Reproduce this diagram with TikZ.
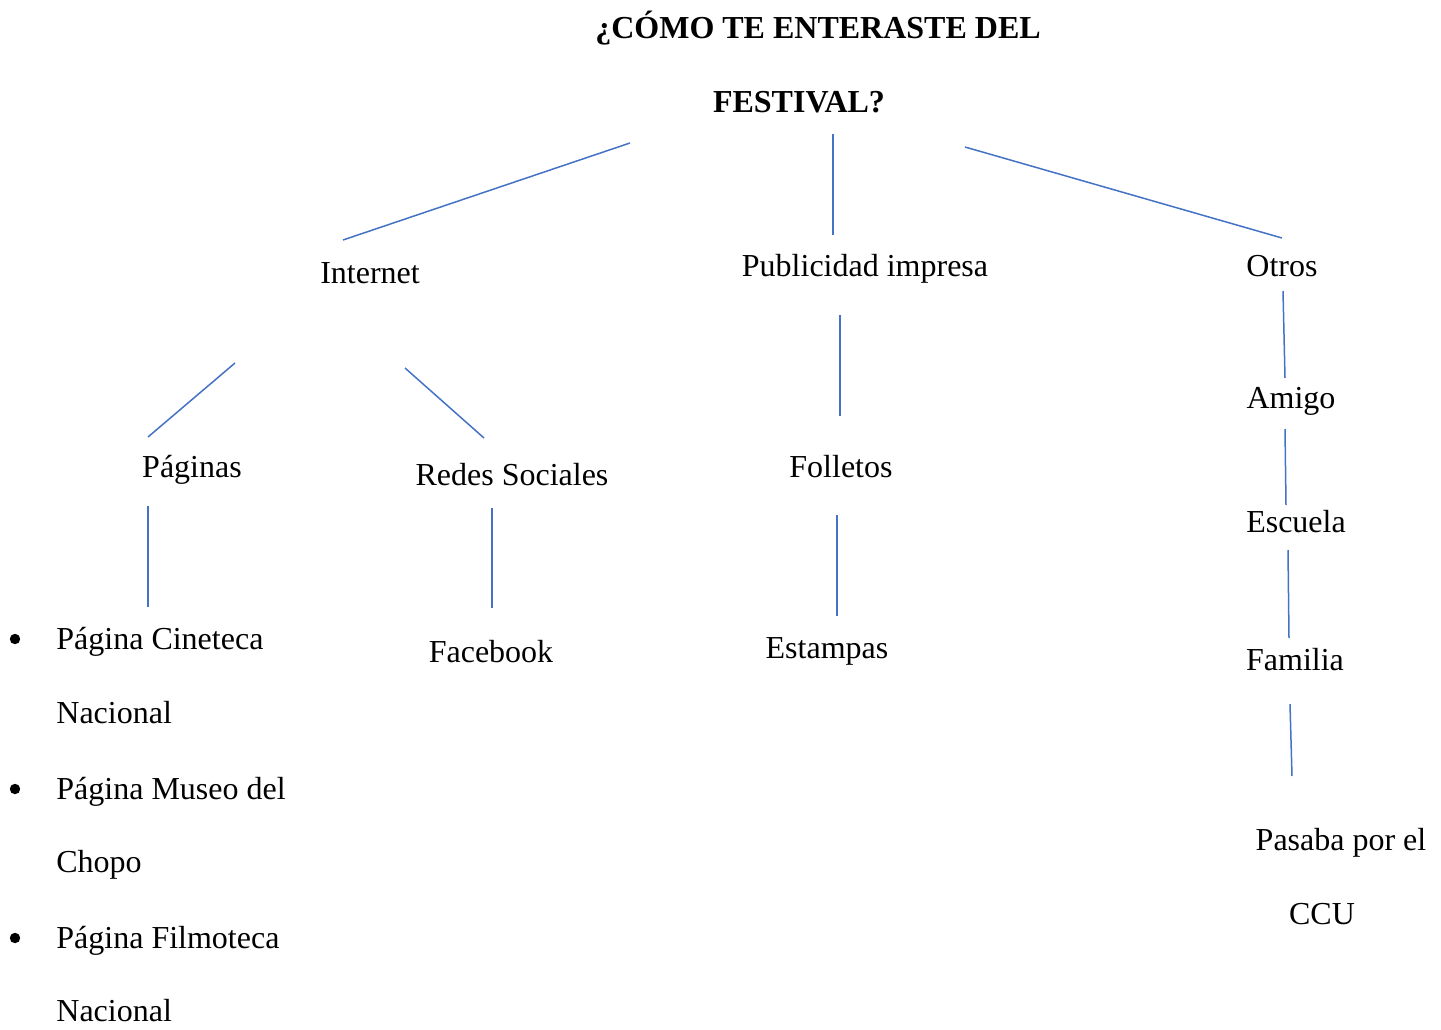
\documentclass[tikz,border=0pt]{standalone}
\usepackage{fontspec}
\setmainfont{Liberation Serif}
\usetikzlibrary{positioning}
\definecolor{lineablue}{HTML}{4472C4}

\begin{document}
\begin{tikzpicture}[x=0.5pt, y=-0.5pt,
    every node/.style={inner sep=0pt, font=\fontsize{16}{19}\selectfont},
    etiqueta/.style={anchor=base},
    item/.style={anchor=base west},
    bala/.style={circle, fill=black, minimum size=5.2pt},
    titulo/.style={anchor=base, font=\fontsize{16}{19}\selectfont\bfseries},
    conector/.style={lineablue, line width=0.75pt}]
    \useasboundingbox (0,0) rectangle (1441,1029);

    % Title
    \node[titulo] (titulo) at (818, 38) {¿CÓMO TE ENTERASTE DEL};
    \node[titulo] (festival) at (799, 112) {FESTIVAL?};

    % First level
    \node[etiqueta] (internet) at (370, 283) {Internet};
    \node[etiqueta] (publicidad) at (865, 276) {Publicidad impresa};
    \node[etiqueta] (otros) at (1282, 276) {Otros};

    % Second level
    \node[etiqueta] (paginas) at (192, 477) {Páginas};
    \node[etiqueta] (redes) at (512, 485) {Redes Sociales};
    \node[etiqueta] (folletos) at (841, 477) {Folletos};
    \node[etiqueta] (amigo) at (1291, 408) {Amigo};
    \node[etiqueta] (escuela) at (1296, 532) {Escuela};
    \node[etiqueta] (familia) at (1295, 670) {Familia};

    % Third level
    \node[etiqueta] (facebook) at (491, 662) {Facebook};
    \node[etiqueta] (estampas) at (827, 658) {Estampas};
    \node[etiqueta] (pasaba) at (1341, 850) {Pasaba por el};
    \node[etiqueta] (ccu) at (1322, 924) {CCU};

    % Bullet list
    \foreach \y/\nombre/\texto in {649/cineteca/Página Cineteca, 799/museo/Página Museo del, 948/filmoteca/Página Filmoteca} {
        \node[bala] (bala-\nombre) at (15, \y-10) {};
        \node[item] (\nombre) at (56, \y) {\texto};
    }
    \node[item] (cineteca2) at (56, 723) {Nacional};
    \node[item] (museo2) at (56, 872) {Chopo};
    \node[item] (filmoteca2) at (56, 1021) {Nacional};

    % Line ends
    \coordinate (t-i) at (630, 143);  \coordinate (i-t) at (343, 240);
    \coordinate (t-p) at (833, 134);  \coordinate (p-t) at (833, 235);
    \coordinate (t-o) at (965, 147);  \coordinate (o-t) at (1282, 238);
    \coordinate (i-pg) at (235, 363); \coordinate (pg-i) at (148, 437);
    \coordinate (i-r) at (405, 368);  \coordinate (r-i) at (484, 438);
    \coordinate (p-f) at (840, 315);  \coordinate (f-p) at (840, 416);
    \coordinate (o-a) at (1283, 291); \coordinate (a-o) at (1285, 378);
    \coordinate (a-e) at (1285, 429); \coordinate (e-a) at (1286, 505);
    \coordinate (e-fm) at (1288, 550); \coordinate (fm-e) at (1289, 638);
    \coordinate (fm-ps) at (1290, 704); \coordinate (ps-fm) at (1292, 776);
    \coordinate (pg-c) at (148, 506); \coordinate (c-pg) at (148, 607);
    \coordinate (r-fb) at (492, 508); \coordinate (fb-r) at (492, 608);
    \coordinate (f-es) at (837, 515); \coordinate (es-f) at (837, 616);

    % Connectors
    \foreach \a/\b in {t-i/i-t, t-p/p-t, t-o/o-t, i-pg/pg-i, i-r/r-i, p-f/f-p,
                       o-a/a-o, a-e/e-a, e-fm/fm-e, fm-ps/ps-fm, pg-c/c-pg,
                       r-fb/fb-r, f-es/es-f} {
        \draw[conector] (\a) -- (\b);
    }
\end{tikzpicture}
\end{document}
